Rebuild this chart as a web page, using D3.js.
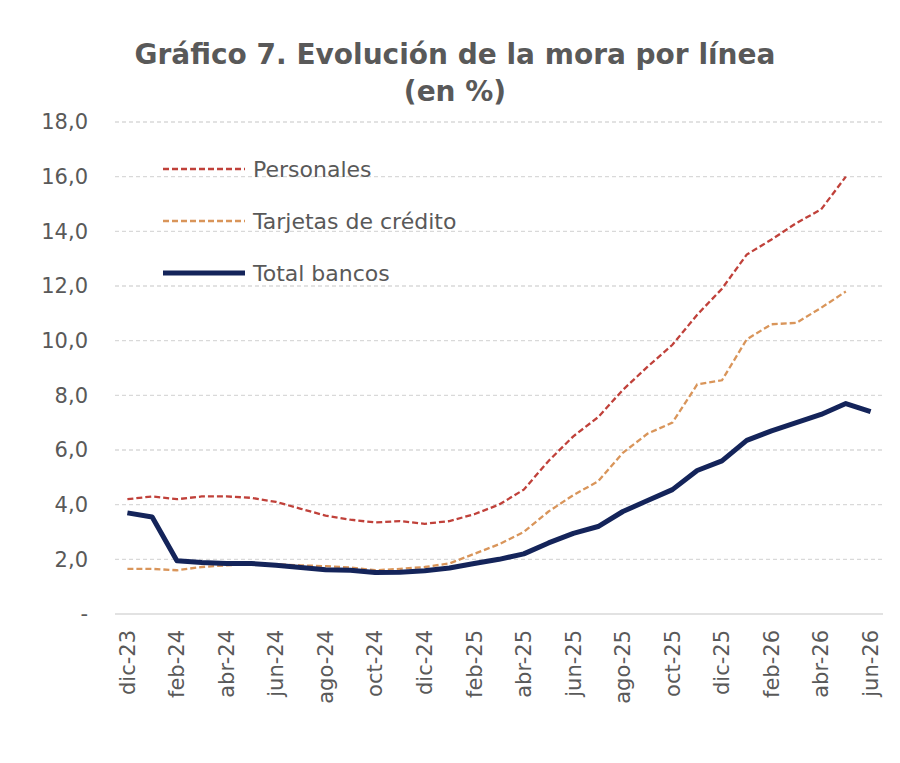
<!DOCTYPE html>
<html><head><meta charset="utf-8">
<script src="https://cdn.jsdelivr.net/npm/d3@7"></script>
<style>body{margin:0;background:#fff;font-family:Verdana,"DejaVu Sans",sans-serif;}</style>
</head><body><svg id="chart" width="900" height="763"></svg>
<script>
const months = ["dic-23","ene-24","feb-24","mar-24","abr-24","may-24","jun-24","jul-24","ago-24","sep-24","oct-24","nov-24","dic-24","ene-25","feb-25","mar-25","abr-25","may-25","jun-25","jul-25","ago-25","sep-25","oct-25","nov-25","dic-25","ene-26","feb-26","mar-26","abr-26","may-26","jun-26"];
const personales = [4.2,4.3,4.2,4.3,4.3,4.25,4.1,3.85,3.6,3.45,3.35,3.4,3.3,3.4,3.65,4.0,4.55,5.6,6.5,7.2,8.2,9.05,9.85,10.95,11.9,13.15,13.7,14.3,14.8,16.0];
const tarjetas = [1.65,1.65,1.6,1.72,1.78,1.82,1.82,1.78,1.75,1.7,1.6,1.65,1.72,1.85,2.2,2.55,3.0,3.75,4.35,4.85,5.9,6.6,7.0,8.4,8.55,10.05,10.6,10.65,11.2,11.8];
const total = [3.7,3.55,1.95,1.88,1.85,1.85,1.78,1.7,1.62,1.6,1.52,1.53,1.58,1.68,1.85,2.0,2.2,2.6,2.95,3.2,3.75,4.15,4.55,5.25,5.6,6.35,6.7,7.0,7.3,7.7,7.4];
const yTicks = [0,2,4,6,8,10,12,14,16,18];

const svg = d3.select("#chart");
const gray = "#595959";
const x = d3.scalePoint().domain(months).range([115, 883]).padding(0.5);
const y = d3.scaleLinear().domain([0, 18]).range([614, 122]);

svg.append("text").attr("x", 455).attr("y", 64).attr("text-anchor", "middle")
  .attr("font-size", 28).attr("font-weight", "bold").attr("fill", gray)
  .text("Gráfico 7. Evolución de la mora por línea");
svg.append("text").attr("x", 455).attr("y", 101).attr("text-anchor", "middle")
  .attr("font-size", 28).attr("font-weight", "bold").attr("fill", gray)
  .text("(en %)");

// grid
svg.append("g").selectAll("line").data(yTicks.filter(d => d > 0)).join("line")
  .attr("x1", 115).attr("x2", 883).attr("y1", d => y(d)).attr("y2", d => y(d))
  .attr("stroke", "#d9d9d9").attr("stroke-width", 1.3).attr("stroke-dasharray", "4,3");
svg.append("line").attr("x1", 115).attr("x2", 883).attr("y1", y(0)).attr("y2", y(0))
  .attr("stroke", "#d9d9d9").attr("stroke-width", 1.5);

const fmt = d => d === 0 ? "-" : d.toFixed(1).replace(".", ",");
svg.append("g").selectAll("text").data(yTicks).join("text")
  .attr("x", 88).attr("y", d => y(d)).attr("dy", "0.35em").attr("text-anchor", "end")
  .attr("font-size", 21).attr("fill", gray).text(fmt);

svg.append("g").selectAll("text").data(months.filter((d, i) => i % 2 === 0)).join("text")
  .attr("transform", d => `translate(${x(d)},630) rotate(-90)`)
  .attr("dy", "0.35em").attr("text-anchor", "end")
  .attr("font-size", 21).attr("fill", gray).text(d => d);

const line = d3.line().x((d, i) => x(months[i])).y(d => y(d));
svg.append("path").datum(tarjetas).attr("d", line).attr("fill", "none")
  .attr("stroke", "#d9955a").attr("stroke-width", 2.3).attr("stroke-dasharray", "6,3");
svg.append("path").datum(personales).attr("d", line).attr("fill", "none")
  .attr("stroke", "#c0413a").attr("stroke-width", 2.3).attr("stroke-dasharray", "6,3");
svg.append("path").datum(total).attr("d", line).attr("fill", "none")
  .attr("stroke", "#14245a").attr("stroke-width", 5).attr("stroke-linejoin", "round");

const legend = [
  {name: "Personales", color: "#c0413a", w: 2.3, dash: "6,3", y: 169},
  {name: "Tarjetas de crédito", color: "#d9955a", w: 2.3, dash: "6,3", y: 221},
  {name: "Total bancos", color: "#14245a", w: 5, dash: null, y: 273}
];
const lg = svg.append("g").selectAll("g").data(legend).join("g");
lg.append("line").attr("x1", 163).attr("x2", 245).attr("y1", d => d.y).attr("y2", d => d.y)
  .attr("stroke", d => d.color).attr("stroke-width", d => d.w).attr("stroke-dasharray", d => d.dash);
lg.append("text").attr("x", 253).attr("y", d => d.y).attr("dy", "0.35em")
  .attr("font-size", 22).attr("fill", gray).text(d => d.name);
</script></body></html>
